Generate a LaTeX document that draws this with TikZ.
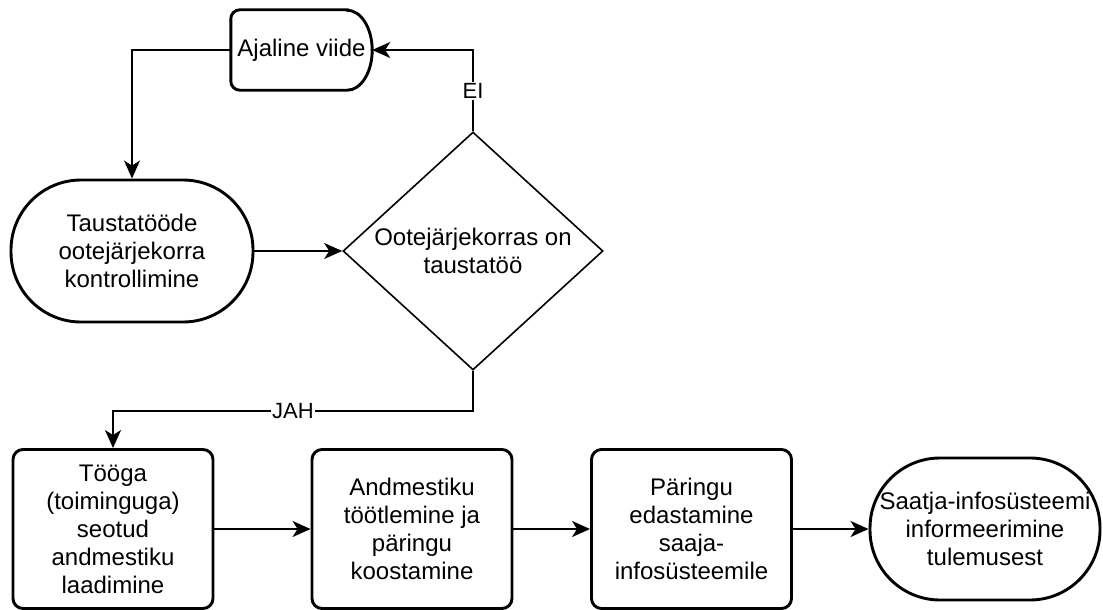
\documentclass[tikz,border=0pt]{standalone}
\usepackage{fontspec}
\setmainfont{Liberation Sans}
\usetikzlibrary{shapes.geometric,arrows.meta}
\begin{document}
\begin{tikzpicture}[x=1pt,y=-1pt,
  every node/.style={font=\fontsize{24}{28}\selectfont, align=center},
  proc/.style={draw, line width=2.9pt, rounded corners=10pt, minimum width=200pt, minimum height=159pt, inner sep=0pt},
  term/.style={draw, line width=2.9pt, rounded corners=70pt, minimum width=242pt, minimum height=142pt, inner sep=0pt},
  decision/.style={draw, diamond, line width=1.6pt, minimum width=260pt, minimum height=238pt, inner sep=0pt, aspect=1.09},
  conn/.style={line width=1.7pt, -{Stealth[length=18pt,width=16pt,inset=5pt]}},
  lab/.style={font=\fontsize{22}{26}\selectfont, fill=white, inner sep=1.5pt}]
\useasboundingbox (0,0) rectangle (1103,610);
% delay shape
\node[minimum width=141pt, minimum height=80pt, inner sep=0pt] (delay) at (301.5,50) {Ajaline viide};
\draw[line width=2.9pt] ([xshift=-25pt]delay.north east) [rounded corners=9pt] -- (delay.north west) -- (delay.south west) [sharp corners] -- ([xshift=-25pt]delay.south east) arc[start angle=-90, end angle=90, x radius=25pt, y radius=40pt] -- cycle;
% nodes
\node[term] (t1) at (132,251) {Taustatööde\\ootejärjekorra\\kontrollimine};
\node[decision] (dia) at (473,251) {Ootejärjekorras on\\taustatöö};
\node[proc] (b1) at (113,529) {Tööga\\(toiminguga)\\seotud\\andmestiku\\laadimine};
\node[proc] (b2) at (412,529) {Andmestiku\\töötlemine ja\\päringu\\koostamine};
\node[proc] (b3) at (691.5,529) {Päringu\\edastamine\\saaja-\\infosüsteemile};
\node[term, minimum width=230pt] (t2) at (985,529) {Saatja-infosüsteemi\\informeerimine\\tulemusest};
% connectors
\draw[conn] (delay.west) -| (t1.north);
\draw[conn] (t1.east) -- (dia.west);
\draw[conn] (dia.north) |- node[lab,pos=0.25]{EI} (delay.east);
\draw[conn] (dia.south) -- ++(0,40) -| node[lab,pos=0.25]{JAH} (b1.north);
\draw[conn] (b1.east) -- (b2.west);
\draw[conn] (b2.east) -- (b3.west);
\draw[conn] (b3.east) -- (t2.west);
\end{tikzpicture}
\end{document}
